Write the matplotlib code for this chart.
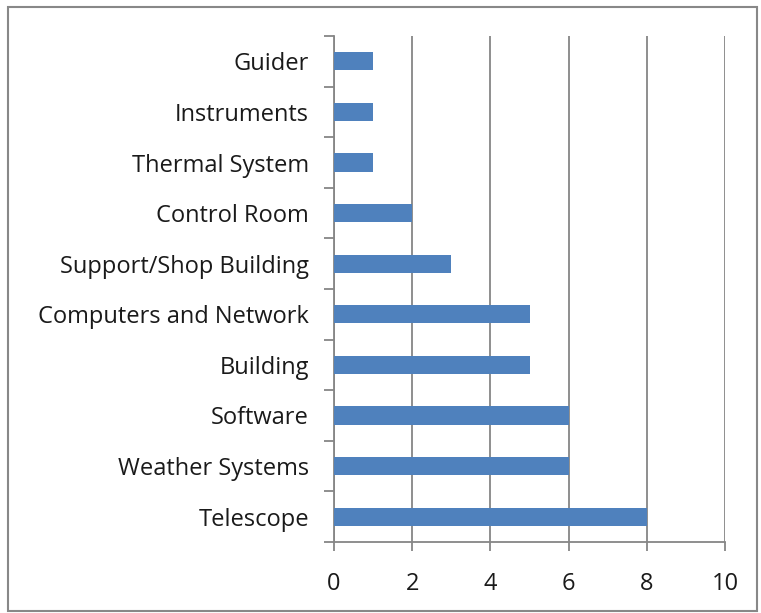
import matplotlib.pyplot as plt
from matplotlib.patches import Rectangle
import numpy as np

categories = ['Telescope', 'Weather Systems', 'Software', 'Building',
              'Computers and Network', 'Support/Shop Building', 'Control Room',
              'Thermal System', 'Instruments', 'Guider']
counts = [8, 6, 6, 5, 5, 3, 2, 1, 1, 1]
xticks = [0, 2, 4, 6, 8, 10]

grey = '#868686'
plt.rcParams['font.family'] = ['Open Sans', 'DejaVu Sans']

fig = plt.figure(figsize=(7.61, 6.13), dpi=100)
ax = fig.add_axes([334 / 761, 1 - 542 / 613, (725 - 334) / 761, (542 - 36) / 613])

y = np.arange(len(categories))
ax.barh(y, counts, height=0.36, color='#4F81BD', zorder=3)

ax.set_xlim(0, 10)
ax.set_ylim(-0.5, len(categories) - 0.5)
ax.set_xticks(xticks)
ax.set_yticks(y)
ax.set_yticklabels(categories)
ax.set_yticks(np.arange(-0.5, len(categories)), minor=True)

ax.grid(axis='x', color=grey, linewidth=1.3, zorder=0)
for s in ['top', 'right']:
    ax.spines[s].set_visible(False)
for s in ['left', 'bottom']:
    ax.spines[s].set_color(grey)
    ax.spines[s].set_linewidth(1.3)

ax.tick_params(axis='y', which='major', length=0, pad=18, labelsize=17, labelcolor='#1a1a1a')
ax.tick_params(axis='y', which='minor', length=7, width=1.3, color=grey)
ax.tick_params(axis='x', length=6.5, width=1.3, color=grey, pad=15, labelsize=17, labelcolor='#1a1a1a')

fig.patches.append(Rectangle((8 / 761, 2 / 613), 749 / 761, 604 / 613,
                             transform=fig.transFigure, fill=False,
                             edgecolor='#888888', linewidth=1.5))

fig.savefig('out.png', dpi=100)
